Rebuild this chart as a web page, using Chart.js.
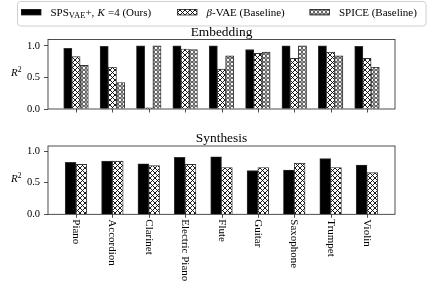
<!DOCTYPE html>
<html>
<head>
<meta charset="utf-8">
<script src="https://cdn.jsdelivr.net/npm/chart.js@4.4.1/dist/chart.umd.min.js"></script>
<style>
  body { margin: 0; background: #fff; }
  #wrap { position: relative; width: 440px; height: 286px; }
  canvas { position: absolute; left: 0; }
</style>
</head>
<body>
<div id="wrap">
  <canvas id="embed" width="440" height="128" style="top:0"></canvas>
  <canvas id="synth" width="440" height="158" style="top:128px"></canvas>
</div>
<script>
// data
const instruments = ['Piano', 'Accordion', 'Clarinet', 'Electric Piano', 'Flute', 'Guitar', 'Saxophone', 'Trumpet', 'Violin'];
const embedOurs  = [0.96, 0.99, 1.00, 1.00, 1.00, 0.94, 1.00, 1.00, 0.99];
const embedBeta  = [0.83, 0.66, 0.02, 0.95, 0.63, 0.88, 0.80, 0.90, 0.80];
const embedSpice = [0.69, 0.42, 1.00, 0.94, 0.84, 0.90, 1.00, 0.84, 0.66];
const synthOurs  = [0.82, 0.84, 0.80, 0.90, 0.91, 0.69, 0.70, 0.88, 0.78];
const synthBeta  = [0.79, 0.84, 0.77, 0.79, 0.74, 0.74, 0.81, 0.74, 0.66];
const yTicks = [0, 0.5, 1.0];

const SERIF = "'Liberation Serif', 'Times New Roman', serif";

// hatch patterns
function makePattern(w, h, draw) {
  const c = document.createElement('canvas');
  c.width = w; c.height = h;
  const g = c.getContext('2d');
  g.fillStyle = '#fff';
  g.fillRect(0, 0, w, h);
  g.strokeStyle = '#000';
  draw(g);
  return g.createPattern(c, 'repeat');
}
const crossHatch = makePattern(5, 5, g => {
  g.lineWidth = 0.9;
  g.beginPath();
  g.moveTo(-1, -1); g.lineTo(6, 6);
  g.moveTo(-1, 6); g.lineTo(6, -1);
  g.stroke();
});
const circleHatch = makePattern(4, 4, g => {
  g.lineWidth = 0.8;
  g.beginPath();
  g.arc(2, 2, 1.4, 0, Math.PI * 2);
  g.stroke();
});

const toXY = arr => arr.map((v, i) => ({ x: i, y: v }));

// draw runs of text with different fonts
function richText(ctx, x, y, parts) {
  ctx.textAlign = 'left';
  ctx.textBaseline = 'alphabetic';
  for (const p of parts) {
    ctx.font = p.font;
    ctx.fillText(p.t, x, y + (p.dy || 0));
    x += ctx.measureText(p.t).width + (p.gap || 0);
  }
  return x;
}

// frame, titles, x ticks, y label
const decor = {
  id: 'decor',
  afterDatasetsDraw(chart, args, opts) {
    const { ctx, chartArea: a } = chart;
    const xs = chart.scales.x;
    ctx.save();
    ctx.strokeStyle = '#222';
    ctx.lineWidth = 0.8;
    ctx.strokeRect(a.left, a.top, a.right - a.left, a.bottom - a.top);
    // x tick marks
    ctx.beginPath();
    instruments.forEach((_, i) => {
      const px = Math.round(xs.getPixelForValue(i)) + 0.5;
      ctx.moveTo(px, a.bottom);
      ctx.lineTo(px, a.bottom + 3.5);
    });
    ctx.stroke();
    ctx.fillStyle = '#000';
    // title
    ctx.font = '13.4px ' + SERIF;
    ctx.textAlign = 'center';
    ctx.textBaseline = 'alphabetic';
    ctx.fillText(opts.title, (a.left + a.right) / 2, a.top - 4);
    // y axis label R^2
    const rx = 11, ry = (a.top + a.bottom) / 2 + 2;
    richText(ctx, rx, ry, [
      { t: 'R', font: 'italic 11px ' + SERIF },
      { t: '2', font: '7.5px ' + SERIF, dy: -4 }
    ]);
    // rotated category labels
    if (opts.labels) {
      ctx.font = '11px ' + SERIF;
      ctx.textAlign = 'left';
      ctx.textBaseline = 'middle';
      instruments.forEach((name, i) => {
        ctx.save();
        ctx.translate(xs.getPixelForValue(i), a.bottom + 5);
        ctx.rotate(Math.PI / 2);
        ctx.fillText(name, 0, 0);
        ctx.restore();
      });
    }
    ctx.restore();
  }
};

// legend drawn on top chart
const legendBox = {
  id: 'legendBox',
  afterDraw(chart) {
    const ctx = chart.ctx;
    ctx.save();
    ctx.beginPath();
    ctx.roundRect(17.5, 1.5, 408.5, 24.5, 3);
    ctx.fillStyle = '#fff';
    ctx.fill();
    ctx.strokeStyle = '#d0d0d0';
    ctx.lineWidth = 1;
    ctx.stroke();
    const items = [
      { x: 21, fill: '#000', parts: [
        { t: 'SPS', font: '11px ' + SERIF },
        { t: 'VAE', font: '8.6px ' + SERIF, dy: 2 },
        { t: '+, ', font: '11px ' + SERIF, gap: 0.5 },
        { t: 'K', font: 'italic 11px ' + SERIF, gap: 3 },
        { t: '=4 (Ours)', font: '11px ' + SERIF }
      ] },
      { x: 177, fill: crossHatch, parts: [
        { t: 'β', font: 'italic 11px ' + SERIF },
        { t: '-VAE (Baseline)', font: '11px ' + SERIF }
      ] },
      { x: 309.5, fill: circleHatch, parts: [
        { t: 'SPICE (Baseline)', font: '11px ' + SERIF }
      ] }
    ];
    for (const it of items) {
      ctx.fillStyle = it.fill;
      ctx.fillRect(it.x, 9, 20, 6);
      ctx.strokeStyle = '#222';
      ctx.lineWidth = 0.8;
      ctx.strokeRect(it.x + 0.5, 9.5, 19.5, 5.5);
      ctx.fillStyle = '#000';
      richText(ctx, it.x + 29.5, 16, it.parts);
    }
    ctx.restore();
  }
};

function barSet(data, fill, thickness) {
  return {
    data: toXY(data),
    backgroundColor: fill,
    borderColor: '#333',
    borderWidth: 0.9,
    borderSkipped: 'start',
    barThickness: thickness
  };
}

function makeOptions(pad, yMax, title, labels) {
  return {
    responsive: false,
    animation: false,
    events: [],
    layout: { padding: pad },
    scales: {
      x: {
        type: 'linear',
        min: -0.77,
        max: 8.77,
        offset: false,
        grid: { display: false },
        border: { display: false },
        ticks: { display: false },
        afterFit: s => { s.height = 0; }
      },
      y: {
        min: 0,
        max: yMax,
        afterBuildTicks: s => { s.ticks = yTicks.map(v => ({ value: v })); },
        grid: { drawOnChartArea: false, tickLength: 4, color: '#222', lineWidth: 0.8 },
        border: { display: false },
        ticks: {
          padding: 4,
          color: '#000',
          font: { family: SERIF, size: 10.5 },
          callback: v => v.toFixed(1)
        },
        afterFit: s => { s.width = 48; }
      }
    },
    plugins: {
      legend: { display: false },
      tooltip: { enabled: false },
      decor: { title: title, labels: labels }
    }
  };
}

new Chart(document.getElementById('embed'), {
  type: 'bar',
  data: {
    datasets: [
      barSet(embedOurs, '#000', 8.2),
      barSet(embedBeta, crossHatch, 8.2),
      barSet(embedSpice, circleHatch, 8.2)
    ]
  },
  options: makeOptions({ top: 39.5, bottom: 19, left: 0, right: 45 }, 1.1, 'Embedding', false),
  plugins: [decor, legendBox]
});

new Chart(document.getElementById('synth'), {
  type: 'bar',
  data: {
    datasets: [
      barSet(synthOurs, '#000', 10.8),
      barSet(synthBeta, crossHatch, 10.8)
    ]
  },
  options: makeOptions({ top: 18, bottom: 71.7, left: 0, right: 45 }, 1.08, 'Synthesis', true),
  plugins: [decor]
});
</script>
</body>
</html>
